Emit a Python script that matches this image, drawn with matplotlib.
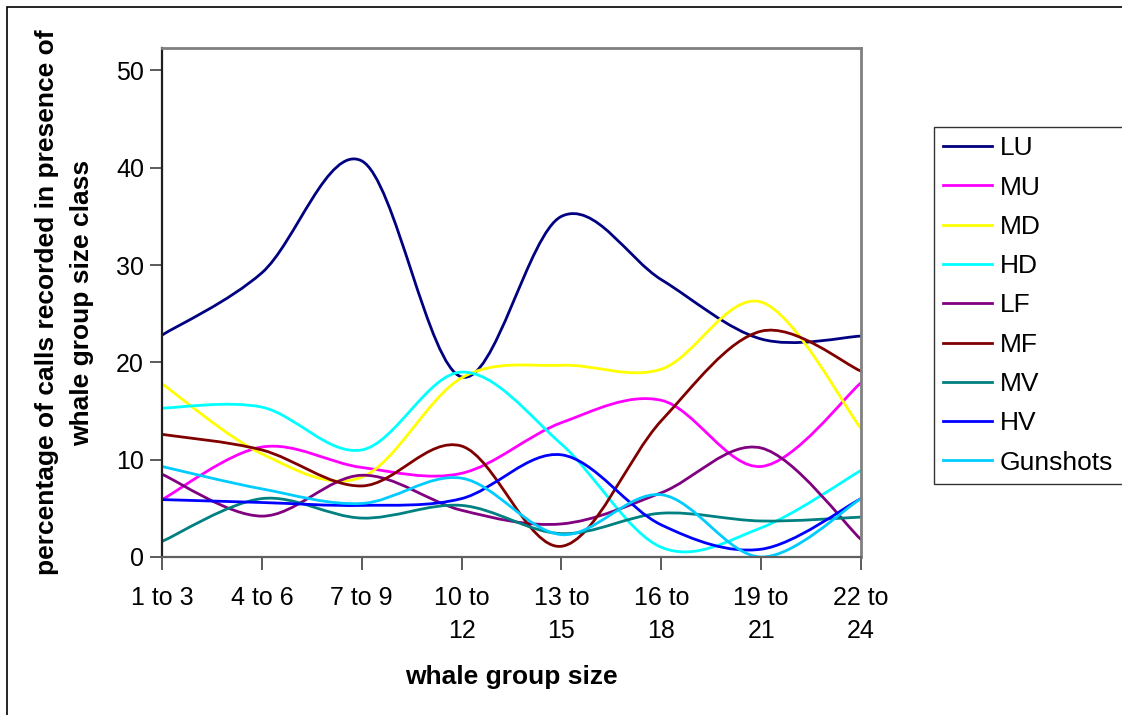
import numpy as np
import matplotlib
matplotlib.use("Agg")
from matplotlib import pyplot as plt
from matplotlib.path import Path
from matplotlib.patches import PathPatch, Rectangle
from matplotlib.lines import Line2D

#
# Data
#
group_sizes = ["1 to 3", "4 to 6", "7 to 9", "10 to\n12", "13 to\n15",
               "16 to\n18", "19 to\n21", "22 to\n24"]

lu = [22.8, 29.2, 40.7, 18.5, 35.0, 28.5, 22.4, 22.7]
mu = [5.9, 11.3, 9.2, 8.6, 13.8, 16.1, 9.3, 17.9]
md = [17.8, 10.6, 8.2, 18.4, 19.7, 19.3, 26.2, 13.2]
hd = [15.3, 15.4, 11.0, 19.0, 11.6, 1.0, 3.0, 8.9]
lf = [8.5, 4.2, 8.4, 4.8, 3.4, 6.6, 11.2, 1.8]
mf = [12.6, 11.0, 7.3, 11.4, 1.1, 14.0, 23.2, 19.1]
mv = [1.6, 6.0, 4.0, 5.3, 2.4, 4.5, 3.7, 4.1]
hv = [5.9, 5.6, 5.3, 6.0, 10.5, 3.3, 0.8, 6.0]
gunshots = [9.3, 7.0, 5.5, 8.1, 2.3, 6.4, 0.0, 6.0]

series = [
    ("LU", lu, "#000080"),
    ("MU", mu, "#FF00FF"),
    ("MD", md, "#FFFF00"),
    ("HD", hd, "#00FFFF"),
    ("LF", lf, "#800080"),
    ("MF", mf, "#800000"),
    ("MV", mv, "#008080"),
    ("HV", hv, "#0000FF"),
    ("Gunshots", gunshots, "#00CCFF"),
]

FONT = "Liberation Sans"
LINE_W = 2.0


# Smoothed line through the points (bezier segments, like a spreadsheet "smoothed line")
def smooth_path(xs, ys):
    pts = np.column_stack([xs, ys]).astype(float)
    n = len(pts)
    verts = [pts[0]]
    codes = [Path.MOVETO]
    for i in range(n - 1):
        p0 = pts[i]
        p1 = pts[i + 1]
        prev = pts[i - 1] if i > 0 else pts[i]
        nxt = pts[i + 2] if i + 2 < n else pts[i + 1]
        c1 = p0 + (p1 - prev) / 6.0
        c2 = p1 - (nxt - p0) / 6.0
        verts += [c1, c2, p1]
        codes += [Path.CURVE4] * 3
    return Path(verts, codes)


fig = plt.figure(figsize=(11.22, 7.15), dpi=100)
ax = fig.add_axes([162 / 1122, 1 - 557 / 715, (861 - 162) / 1122, (557 - 48) / 715])

x = np.arange(len(group_sizes))
handles = []
for name, values, color in series:
    patch = PathPatch(smooth_path(x, values), facecolor="none", edgecolor=color,
                      linewidth=LINE_W, capstyle="round", joinstyle="round")
    ax.add_patch(patch)
    handles.append(Line2D([], [], color=color, linewidth=LINE_W))

ax.set_xlim(0, len(group_sizes) - 1)
ax.set_ylim(0, 52.3)
ax.set_yticks([0, 10, 20, 30, 40, 50])
ax.set_xticks(x)
ax.set_xticklabels(group_sizes, fontfamily=FONT, fontsize=18, linespacing=1.45)
for lbl in ax.get_yticklabels():
    lbl.set_fontfamily(FONT)
    lbl.set_fontsize(18)

ax.tick_params(axis="both", direction="out", length=9, width=1.2, color="#404040")
ax.tick_params(axis="x", pad=12)
ax.tick_params(axis="y", pad=4)

for side in ["top", "right"]:
    ax.spines[side].set_color("#808080")
    ax.spines[side].set_linewidth(2)
ax.spines["left"].set_color("#202020")
ax.spines["left"].set_linewidth(1.6)
ax.spines["bottom"].set_color("#606060")
ax.spines["bottom"].set_linewidth(1.6)

ax.set_xlabel("whale group size", fontfamily=FONT, fontsize=19, fontweight="bold", labelpad=16)
ax.set_ylabel("percentage of calls recorded in presence of\nwhale group size class",
              fontfamily=FONT, fontsize=19, fontweight="bold", labelpad=16, linespacing=1.55)

leg = fig.legend(handles, [s[0] for s in series], loc="upper left",
                 bbox_to_anchor=(934 / 1122, 1 - 127 / 715),
                 prop={"family": FONT, "size": 19}, frameon=True, fancybox=False,
                 edgecolor="black", handlelength=1.85, handletextpad=0.3,
                 labelspacing=0.58, borderpad=0.35, borderaxespad=0)
leg.get_frame().set_linewidth(1.0)

# outer chart border
fig.patches.append(Rectangle((7 / 1122, -0.01), 1.1, 1 - 7 / 715 + 0.01,
                             transform=fig.transFigure, fill=False,
                             edgecolor="black", linewidth=1.2))

fig.savefig("out.png", dpi=100)
